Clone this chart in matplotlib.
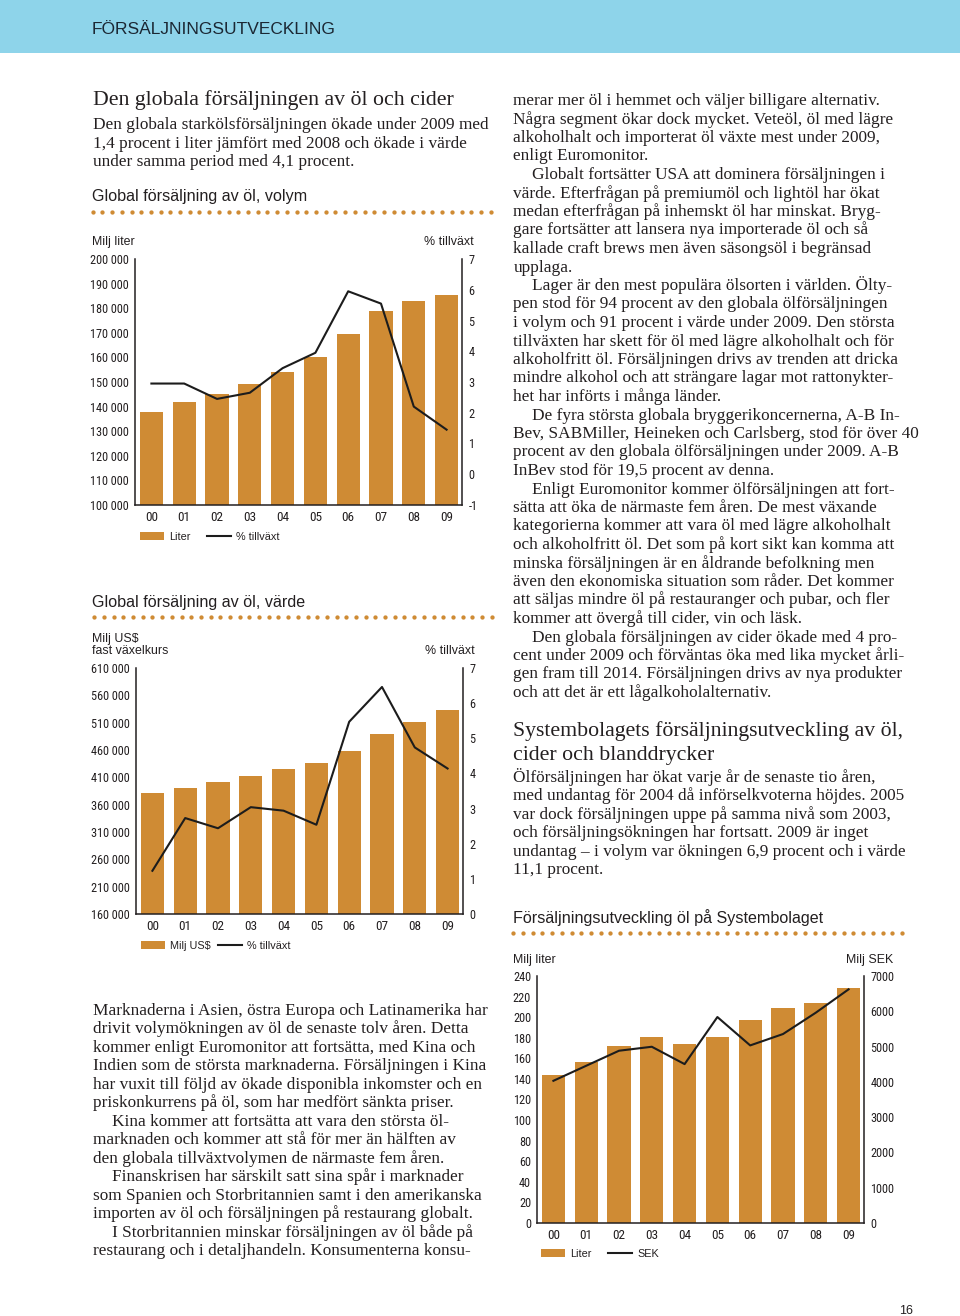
import numpy as np
import matplotlib
matplotlib.use('Agg')
import matplotlib.pyplot as plt
from matplotlib import font_manager
from matplotlib.lines import Line2D
from matplotlib.patches import Rectangle

# ---------------- data ----------------
years = ['00', '01', '02', '03', '04', '05', '06', '07', '08', '09']

vol_liter = [137700, 141700, 145300, 149100, 154100, 160000, 169600, 179000, 182800, 185500]
vol_growth = [2.95, 2.95, 2.45, 2.65, 3.45, 3.95, 5.95, 5.55, 2.2, 1.45]

val_usd = [381400, 391000, 401000, 413000, 425000, 435500, 459000, 489000, 511500, 533500]
val_growth = [1.23, 2.73, 2.44, 3.04, 2.94, 2.54, 5.47, 6.46, 4.74, 4.14]

sb_liter = [143.4, 156.3, 171.6, 180.7, 173.5, 180.7, 196.9, 208.6, 213.4, 228.0]
sb_sek = [4030, 4456, 4882, 4995, 4503, 5837, 5033, 5355, 5960, 6622]

vol_ticks = list(range(100000, 200001, 10000))
vol_gticks = list(range(-1, 8))
val_ticks = list(range(160000, 610001, 50000))
val_gticks = list(range(0, 8))
sb_ticks = list(range(0, 241, 20))
sb_sek_ticks = list(range(0, 7001, 1000))

header = "FÖRSÄLJNINGSUTVECKLING"
head1 = "Den globala försäljningen av öl och cider"
intro1 = ["Den globala starkölsförsäljningen ökade under 2009 med",
          "1,4 procent i liter jämfört med 2008 och ökade i värde",
          "under samma period med 4,1 procent."]
title1 = "Global försäljning av öl, volym"
title2 = "Global försäljning av öl, värde"
title3 = "Försäljningsutveckling öl på Systembolaget"

left_body = [
    ("Marknaderna i Asien, östra Europa och Latinamerika har", 0),
    ("drivit volymökningen av öl de senaste tolv åren. Detta", 0),
    ("kommer enligt Euromonitor att fortsätta, med Kina och", 0),
    ("Indien som de största marknaderna. Försäljningen i Kina", 0),
    ("har vuxit till följd av ökade disponibla inkomster och en", 0),
    ("priskonkurrens på öl, som har medfört sänkta priser.", 0),
    ("Kina kommer att fortsätta att vara den största öl-", 1),
    ("marknaden och kommer att stå för mer än hälften av", 0),
    ("den globala tillväxtvolymen de närmaste fem åren.", 0),
    ("Finanskrisen har särskilt satt sina spår i marknader", 1),
    ("som Spanien och Storbritannien samt i den amerikanska", 0),
    ("importen av öl och försäljningen på restaurang globalt.", 0),
    ("I Storbritannien minskar försäljningen av öl både på", 1),
    ("restaurang och i detaljhandeln. Konsumenterna konsu-", 0),
]

right_body = [
    ("merar mer öl i hemmet och väljer billigare alternativ.", 0),
    ("Några segment ökar dock mycket. Veteöl, öl med lägre", 0),
    ("alkoholhalt och importerat öl växte mest under 2009,", 0),
    ("enligt Euromonitor.", 0),
    ("Globalt fortsätter USA att dominera försäljningen i", 1),
    ("värde. Efterfrågan på premiumöl och lightöl har ökat", 0),
    ("medan efterfrågan på inhemskt öl har minskat. Bryg-", 0),
    ("gare fortsätter att lansera nya importerade öl och så", 0),
    ("kallade craft brews men även säsongsöl i begränsad", 0),
    ("upplaga.", 0),
    ("Lager är den mest populära ölsorten i världen. Ölty-", 1),
    ("pen stod för 94 procent av den globala ölförsäljningen", 0),
    ("i volym och 91 procent i värde under 2009. Den största", 0),
    ("tillväxten har skett för öl med lägre alkoholhalt och för", 0),
    ("alkoholfritt öl. Försäljningen drivs av trenden att dricka", 0),
    ("mindre alkohol och att strängare lagar mot rattonykter-", 0),
    ("het har införts i många länder.", 0),
    ("De fyra största globala bryggerikoncernerna, A-B In-", 1),
    ("Bev, SABMiller, Heineken och Carlsberg, stod för över 40", 0),
    ("procent av den globala ölförsäljningen under 2009. A-B", 0),
    ("InBev stod för 19,5 procent av denna.", 0),
    ("Enligt Euromonitor kommer ölförsäljningen att fort-", 1),
    ("sätta att öka de närmaste fem åren. De mest växande", 0),
    ("kategorierna kommer att vara öl med lägre alkoholhalt", 0),
    ("och alkoholfritt öl. Det som på kort sikt kan komma att", 0),
    ("minska försäljningen är en åldrande befolkning men", 0),
    ("även den ekonomiska situation som råder. Det kommer", 0),
    ("att säljas mindre öl på restauranger och pubar, och fler", 0),
    ("kommer att övergå till cider, vin och läsk.", 0),
    ("Den globala försäljningen av cider ökade med 4 pro-", 1),
    ("cent under 2009 och förväntas öka med lika mycket årli-", 0),
    ("gen fram till 2014. Försäljningen drivs av nya produkter", 0),
    ("och att det är ett lågalkoholalternativ.", 0),
]

head2 = ["Systembolagets försäljningsutveckling av öl,",
         "cider och blanddrycker"]
body2 = ["Ölförsäljningen har ökat varje år de senaste tio åren,",
         "med undantag för 2004 då införselkvoterna höjdes. 2005",
         "var dock försäljningen uppe på samma nivå som 2003,",
         "och försäljningsökningen har fortsatt. 2009 är inget",
         "undantag – i volym var ökningen 6,9 procent och i värde",
         "11,1 procent."]

# ---------------- style ----------------
W, H = 960, 1316
DPI = 100
BAR = '#CF8B34'
BAND = '#8ED4EA'
INK = '#231F20'
LINE = '#1C1C1C'

names = {f.name for f in font_manager.fontManager.ttflist}
SERIF = 'Liberation Serif' if 'Liberation Serif' in names else 'DejaVu Serif'
SANS = 'Liberation Sans' if 'Liberation Sans' in names else 'DejaVu Sans'
COND = None
for cand in ['Liberation Sans Narrow', 'Roboto Condensed', 'Open Sans Condensed',
             'Noto Sans Condensed', 'DejaVu Sans Condensed']:
    if cand in names:
        COND = cand
        break
if COND is None:
    COND = SANS
    YT_SIZE, XT_SIZE = 7.8, 8.6
else:
    YT_SIZE, XT_SIZE = 8.8, 9.5

fig = plt.figure(figsize=(W / DPI, H / DPI), dpi=DPI)
fig.patch.set_facecolor('white')
renderer = fig.canvas.get_renderer()


def fy(y):
    return 1 - y / H


def fit_size(text, family, target_px, base=10.0):
    t = fig.text(0, 0, text, fontsize=base, family=family)
    w = t.get_window_extent(renderer).width
    t.remove()
    return base * target_px / w


def txt(x, y, s, size, family, color=INK, ha='left'):
    fig.text(x / W, fy(y), s, fontsize=size, family=family, color=color,
             ha=ha, va='baseline')


def dots(x0, x1, y):
    n = int(round((x1 - x0) / 9.77)) + 1
    xs = np.linspace(x0, x1, n) / W
    fig.add_artist(Line2D(xs, [fy(y)] * n, transform=fig.transFigure,
                          linestyle='none', marker='o', markersize=3.1,
                          markeredgewidth=0, color=BAR))


# header band
fig.add_artist(Rectangle((0, fy(53)), 1, 53 / H, transform=fig.transFigure,
                         facecolor=BAND, edgecolor='none', zorder=0))
hs = fit_size(header, SANS, 244)
txt(92, 34.3, header, hs, SANS, color='#1B2733')

# font sizes fitted to measured line widths (averaged over several lines)
body_refs = [(left_body[0][0], 400.6), (intro1[0], 395.7),
             (right_body[13][0], 386.7), (right_body[18][0], 389.0)]
BODY = float(np.mean([fit_size(s, SERIF, w) for s, w in body_refs]))
HEAD = float(np.mean([fit_size(head1, SERIF, 356.6), fit_size(head2[0], SERIF, 395.0)]))
TITLE = fit_size(title1, SANS, 216)
INDENT = 19

txt(92.7, 105, head1, HEAD, SERIF)
for i, s in enumerate(intro1):
    txt(92.7, 129.3 + i * 18.4, s, BODY, SERIF)

for i, (s, ind) in enumerate(left_body):
    txt(92.7 + ind * INDENT, 1015 + i * 18.46, s, BODY, SERIF)

for i, (s, ind) in enumerate(right_body):
    txt(513.3 + ind * INDENT, 105 + i * 18.5, s, BODY, SERIF)

for i, s in enumerate(head2):
    txt(513.3, 736 + i * 24, s, HEAD, SERIF)
for i, s in enumerate(body2):
    txt(513.3, 781.7 + i * 18.5, s, BODY, SERIF)

txt(92, 200.7, title1, TITLE, SANS)
txt(92, 606.7, title2, TITLE, SANS)
txt(513, 922.7, title3, TITLE, SANS)
dots(92.7, 490.7, 212)
dots(94.3, 491.7, 617.3)
dots(513.3, 902, 933)

LAB = 8.9
txt(92, 245.3, "Milj liter", LAB, SANS)
txt(474, 245.3, "% tillväxt", LAB, SANS, ha='right')
txt(92, 641.7, "Milj US$", LAB, SANS)
txt(92, 654.3, "fast växelkurs", LAB, SANS)
txt(475, 654.5, "% tillväxt", LAB, SANS, ha='right')
txt(513, 963.3, "Milj liter", LAB, SANS)
txt(893, 963.3, "Milj SEK", LAB, SANS, ha='right')

txt(899, 1314, "16", 9, SANS)


def space_fmt(v):
    return f"{int(v):,}".replace(',', ' ')


def plain_fmt(v):
    return f"{int(v)}"


def chart(box, bars, line, ylim, yt, yfmt, y2lim, y2t, labels, leg_xy, colsp):
    x0, y0, x1, y1 = box
    ax = fig.add_axes([x0 / W, fy(y1), (x1 - x0) / W, (y1 - y0) / H])
    ax.set_facecolor('none')
    xs = np.arange(len(years))
    b = ax.bar(xs, bars, width=0.71, color=BAR, zorder=2, label=labels[0])
    ax.set_xlim(-0.5, 9.47)
    ax.set_ylim(*ylim)
    ax.set_yticks(yt)
    ax.set_yticklabels([yfmt(v) for v in yt])
    ax.set_xticks(xs)
    ax.set_xticklabels(years)
    for s in ['top', 'right']:
        ax.spines[s].set_visible(False)
    for s in ['left', 'bottom']:
        ax.spines[s].set_color(INK)
        ax.spines[s].set_linewidth(1.1)
    ax.tick_params(axis='y', length=0, pad=4.3, labelsize=YT_SIZE, labelcolor=INK)
    ax.tick_params(axis='x', length=0, pad=4.6, labelsize=XT_SIZE, labelcolor=INK)
    for t in ax.get_yticklabels() + ax.get_xticklabels():
        t.set_family(COND)

    ax2 = ax.twinx()
    ln, = ax2.plot(xs, line, color=LINE, lw=1.5, zorder=3, label=labels[1])
    ax2.set_ylim(*y2lim)
    ax2.set_yticks(y2t)
    ax2.set_yticklabels([plain_fmt(v) for v in y2t])
    for s in ['top', 'left', 'bottom']:
        ax2.spines[s].set_visible(False)
    ax2.spines['right'].set_color(INK)
    ax2.spines['right'].set_linewidth(1.1)
    ax2.tick_params(axis='y', length=0, pad=4.5, labelsize=YT_SIZE, labelcolor=INK)
    for t in ax2.get_yticklabels():
        t.set_family(COND)

    fs = 7.8
    em = fs * DPI / 72
    leg = ax2.legend([b, ln], labels, loc='center left',
                     bbox_to_anchor=(leg_xy[0] / W, fy(leg_xy[1])),
                     bbox_transform=fig.transFigure, ncol=2, frameon=False,
                     fontsize=fs, borderpad=0, borderaxespad=0,
                     handlelength=24 / em, handleheight=8 / em,
                     handletextpad=5 / em, columnspacing=colsp / em)
    for t in leg.get_texts():
        t.set_color(INK)
        t.set_family(SANS)
    return ax, ax2


chart((135, 259, 462, 505), vol_liter, vol_growth, (100000, 200000), vol_ticks,
      space_fmt, (-1, 7), vol_gticks, ["Liter", "% tillväxt"], (140, 537), 17)
chart((136, 668, 463, 914), val_usd, val_growth, (160000, 610000), val_ticks,
      space_fmt, (0, 7), val_gticks, ["Milj US$", "% tillväxt"], (141, 946), 7)
chart((537, 976, 864, 1223), sb_liter, sb_sek, (0, 240), sb_ticks,
      plain_fmt, (0, 7000), sb_sek_ticks, ["Liter", "SEK"], (541, 1254), 17)

fig.savefig('out.png', dpi=DPI)
